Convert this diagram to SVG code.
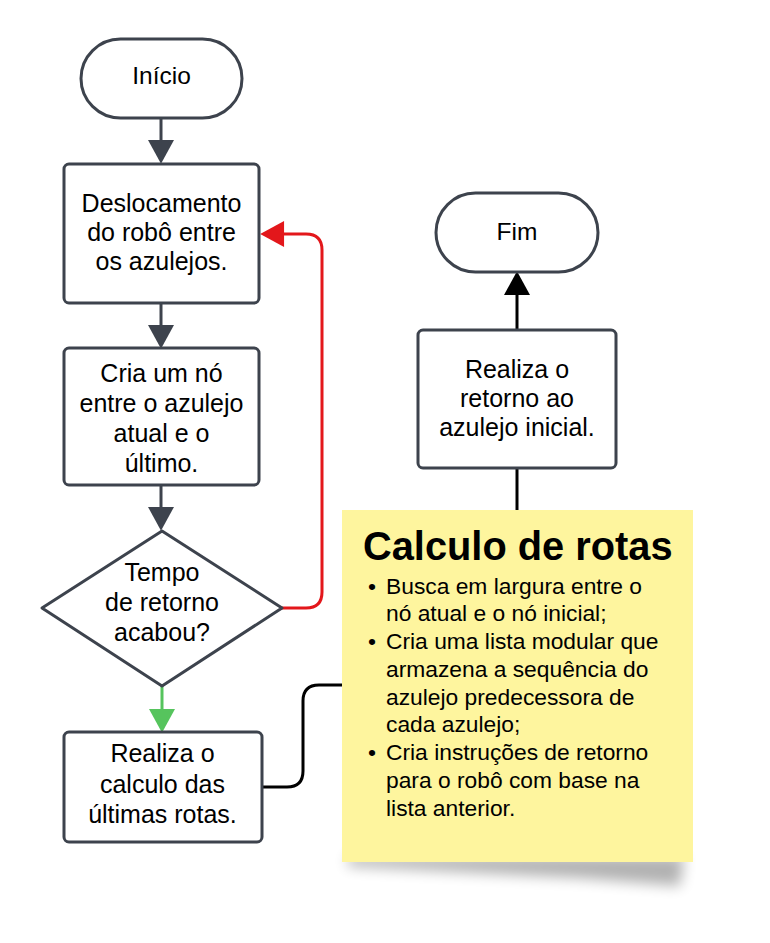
<svg xmlns="http://www.w3.org/2000/svg" width="770" height="943" viewBox="0 0 770 943">
  <style>
    .node { fill: #ffffff; stroke: #3d434d; stroke-width: 3; stroke-linejoin: round; }
    .lbl { font-family: "Liberation Sans", Arial, sans-serif; font-size: 25px; fill: #000000; text-anchor: middle; }
    .term { font-family: "Liberation Sans", Arial, sans-serif; font-size: 24.5px; fill: #000000; text-anchor: middle; }
    .conn { fill: none; stroke-width: 3; }
    .dark { stroke: #3d434d; }
    .blk { stroke: #000000; }
    .grn { stroke: #56c45d; }
    .red { stroke: #e3171b; }
    .title { font-family: "Liberation Sans", Arial, sans-serif; font-size: 39.8px; font-weight: bold; fill: #000000; }
    .note { font-family: "Liberation Sans", Arial, sans-serif; font-size: 22.8px; fill: #000000; }
  </style>
  <defs>
    <marker id="ahDark" markerUnits="userSpaceOnUse" markerWidth="25" markerHeight="26" viewBox="0 0 23 25" refX="2" refY="12.5" orient="auto">
      <path d="M0,0 L23,12.5 L0,25 z" fill="#3d434d"/>
    </marker>
    <marker id="ahBlk" markerUnits="userSpaceOnUse" markerWidth="25" markerHeight="26" viewBox="0 0 23 25" refX="2" refY="12.5" orient="auto">
      <path d="M0,0 L23,12.5 L0,25 z" fill="#000000"/>
    </marker>
    <marker id="ahGrn" markerUnits="userSpaceOnUse" markerWidth="25" markerHeight="26" viewBox="0 0 23 25" refX="2" refY="12.5" orient="auto">
      <path d="M0,0 L23,12.5 L0,25 z" fill="#56c45d"/>
    </marker>
    <marker id="ahRed" markerUnits="userSpaceOnUse" markerWidth="25" markerHeight="26" viewBox="0 0 23 25" refX="2" refY="12.5" orient="auto">
      <path d="M0,0 L23,12.5 L0,25 z" fill="#e3171b"/>
    </marker>
    <filter id="shadow" x="-20%" y="-50%" width="140%" height="200%">
      <feGaussianBlur stdDeviation="7"/>
    </filter>
  </defs>

  <rect width="770" height="943" fill="#ffffff"/>

  <g id="connectors">
    <path class="conn dark" d="M161,118 L161,142" marker-end="url(#ahDark)"/>
    <path class="conn dark" d="M161,303 L161,327" marker-end="url(#ahDark)"/>
    <path class="conn dark" d="M161,485 L161,509" marker-end="url(#ahDark)"/>
    <path class="conn grn" d="M162,686 L162,711" marker-end="url(#ahGrn)"/>
    <path class="conn red" d="M282,608 L306,608 Q322,608 322,592 L322,250 Q322,234 306,234 L282,234" marker-end="url(#ahRed)"/>
    <path class="conn blk" d="M262,787 L287,787 Q303,787 303,771 L303,701 Q303,685 319,685 L342,685"/>
    <path class="conn blk" d="M517,510 L517,468"/>
    <path class="conn blk" d="M517,330 L517,293" marker-end="url(#ahBlk)"/>
  </g>

  <g id="inicio">
    <rect class="node" x="81" y="39" width="161" height="79" rx="39.5"/>
    <text class="term" x="161.5" y="84">Início</text>
  </g>

  <g id="deslocamento">
    <rect class="node" x="64" y="164" width="195" height="139" rx="5"/>
    <text class="lbl" x="161.5" y="212" font-size="24.5">Deslocamento</text>
    <text class="lbl" x="161.5" y="241" font-size="24.5">do robô entre</text>
    <text class="lbl" x="161.5" y="270" font-size="24.5">os azulejos.</text>
  </g>

  <g id="cria-no">
    <rect class="node" x="64" y="348" width="195" height="137" rx="5"/>
    <text class="lbl" x="161.5" y="381.5">Cria um nó</text>
    <text class="lbl" x="161.5" y="411.5">entre o azulejo</text>
    <text class="lbl" x="161.5" y="441.5">atual e o</text>
    <text class="lbl" x="161.5" y="471.5">último.</text>
  </g>

  <g id="decisao">
    <path class="node" d="M162,531 L282,608 L162,686 L42,608 Z"/>
    <text class="lbl" x="162" y="581">Tempo</text>
    <text class="lbl" x="162" y="611">de retorno</text>
    <text class="lbl" x="162" y="641">acabou?</text>
  </g>

  <g id="calculo-ultimas">
    <rect class="node" x="64" y="732" width="198" height="110" rx="5"/>
    <text class="lbl" x="162.5" y="762">Realiza o</text>
    <text class="lbl" x="162.5" y="792.5">calculo das</text>
    <text class="lbl" x="162.5" y="823">últimas rotas.</text>
  </g>

  <g id="retorno">
    <rect class="node" x="418" y="330" width="198" height="138" rx="5"/>
    <text class="lbl" x="517" y="378">Realiza o</text>
    <text class="lbl" x="517" y="407">retorno ao</text>
    <text class="lbl" x="517" y="436">azulejo inicial.</text>
  </g>

  <g id="fim">
    <rect class="node" x="436" y="193" width="162" height="79" rx="39.5"/>
    <text class="term" x="517" y="240">Fim</text>
  </g>

  <g id="nota-calculo">
    <path d="M348,856 L684,856 L680,886 L580,878 L348,866 Z" fill="#000000" opacity="0.3" filter="url(#shadow)"/>
    <rect x="342" y="510" width="351" height="352" fill="#fef59e"/>
    <text class="title" x="363" y="560">Calculo de rotas</text>
    <g class="note">
      <text x="372" y="593.5" text-anchor="middle">•</text>
      <text x="386" y="593.5">Busca em largura entre o</text>
      <text x="386" y="621.3">nó atual e o nó inicial;</text>
      <text x="372" y="649" text-anchor="middle">•</text>
      <text x="386" y="649">Cria uma lista modular que</text>
      <text x="386" y="676.8">armazena a sequência do</text>
      <text x="386" y="704.5">azulejo predecessora de</text>
      <text x="386" y="732.3">cada azulejo;</text>
      <text x="372" y="760" text-anchor="middle">•</text>
      <text x="386" y="760">Cria instruções de retorno</text>
      <text x="386" y="787.8">para o robô com base na</text>
      <text x="386" y="815.5">lista anterior.</text>
    </g>
  </g>
</svg>
